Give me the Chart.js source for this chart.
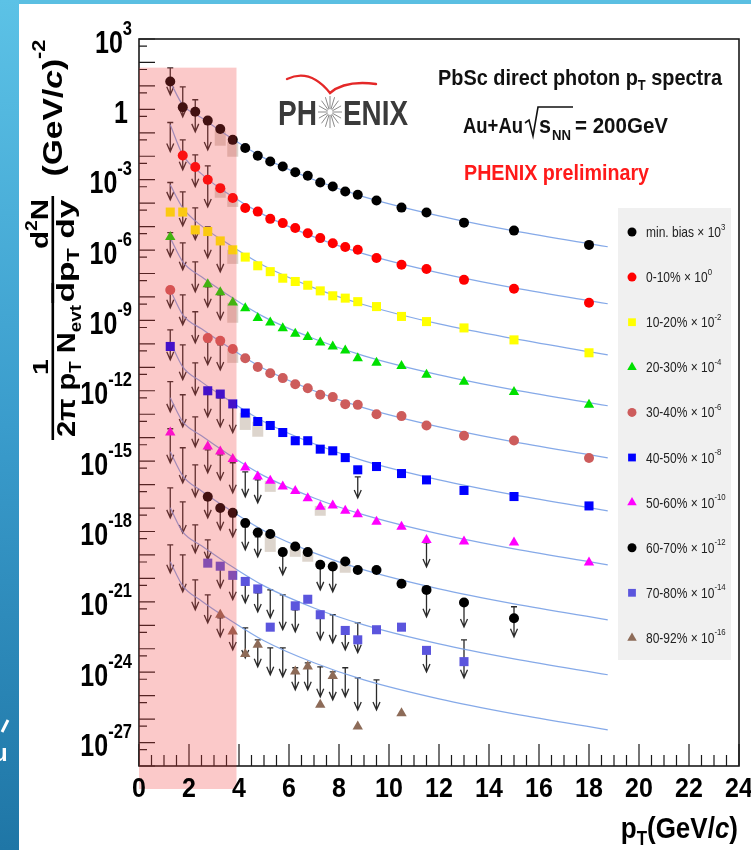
<!DOCTYPE html>
<html>
<head>
<meta charset="utf-8">
<title>PbSc direct photon pT spectra</title>
<script src="https://cdn.jsdelivr.net/npm/chart.js@4.4.1/dist/chart.umd.min.js"></script>
<style>
  html, body { margin: 0; padding: 0; background: #fff; }
  #wrap { width: 751px; height: 850px; }
</style>
</head>
<body>
<div id="wrap"><canvas id="spectra" width="751" height="850"></canvas></div>
<script>
// pT bin centres (GeV/c)
const ptBins = [1.25, 1.75, 2.25, 2.75, 3.25, 3.75, 4.25, 4.75, 5.25, 5.75, 6.25, 6.75,
                7.25, 7.75, 8.25, 8.75, 9.5, 10.5, 11.5, 13, 15, 18];

// measured points, log10 of the scaled yield (null = no marker)
const minBiasLog = [1.19, 0.09, -0.10, -0.48, -0.84, -1.30, -1.65, -1.98, -2.22, -2.44, -2.68, -2.83,
                    -3.12, -3.29, -3.50, -3.64, -3.89, -4.19, -4.40, -4.83, -5.17, -5.78];
const c0010Log = [null, -1.97, -2.46, -3.00, -3.36, -3.78, -4.21, -4.36, -4.67, -4.85, -5.06, -5.28,
                  -5.49, -5.71, -5.87, -5.99, -6.34, -6.63, -6.81, -7.27, -7.65, -8.25];
const c1020Log = [-4.38, -4.38, -5.14, -5.21, -5.61, -5.99, -6.30, -6.67, -6.92, -7.20, -7.34, -7.50,
                  -7.74, -7.95, -8.05, -8.20, -8.41, -8.83, -9.05, -9.32, -9.83, -10.38];
const c2030Log = [-5.44, null, null, -7.46, -7.80, -8.24, -8.48, -8.90, -9.09, -9.33, -9.57, -9.71,
                  -9.94, -10.11, -10.28, -10.61, -10.80, -10.94, -11.32, -11.62, -12.05, -12.60];
const c3040Log = [-7.70, null, null, -9.75, -9.87, -10.22, -10.61, -10.99, -11.25, -11.46, -11.72, -11.89,
                  -12.17, -12.27, -12.57, -12.60, -13.00, -13.08, -13.48, -13.92, -14.12, -14.87];
const c4050Log = [-10.11, null, null, -12.00, -12.14, -12.56, -12.95, -13.31, -13.48, -13.78, -14.13, -14.13,
                  -14.49, -14.56, -14.85, -15.37, -15.23, -15.53, -15.80, -16.25, -16.51, -16.91];
const c5060Log = [-13.78, null, null, -14.38, -14.59, -14.91, -15.27, -15.66, -15.84, -16.08, -16.27, -16.58,
                  -16.94, -16.89, -17.12, -17.27, -17.58, -17.80, -18.36, -18.43, -18.47, -19.32];
const c6070Log = [null, null, null, -16.52, -17.00, -17.20, -17.64, -18.04, -18.11, -18.88, -18.64, -18.88,
                  -19.42, -19.49, -19.28, -19.64, -19.64, -20.23, -20.49, -21.03, -21.70, null];
const c7080Log = [null, null, null, -19.35, -19.48, -19.87, -20.13, -20.45, -22.08, null, -21.17, -20.89,
                  -21.55, null, -22.22, -22.62, -22.19, -22.08, -23.07, -23.55, null, null];
const c8092Log = [null, null, null, null, -21.55, -22.27, -23.22, -22.83, null, null, -23.97, -23.76,
                  -25.39, -24.16, null, -26.32, null, -25.75, null, null, null, null];

// fit curves, log10 values at fitPt
const fitPt = [1.25, 1.75, 2.5, 3.5, 5, 7, 9, 12, 15, 18.75];
const fitMinBiasLog = [1.17, 0.19, -0.36, -1.09, -2.07, -3.00, -3.73, -4.54, -5.18, -5.86];
const fit0010Log = [-0.66, -1.94, -2.75, -3.56, -4.50, -5.44, -6.16, -6.97, -7.61, -8.29];
const fit1020Log = [-3.22, -4.20, -4.97, -5.69, -6.67, -7.61, -8.33, -9.15, -9.78, -10.47];
const fit2030Log = [-5.48, -6.50, -7.14, -7.87, -8.85, -9.78, -10.51, -11.32, -11.96, -12.64];
const fit3040Log = [-7.70, -8.76, -9.36, -10.08, -11.06, -12.00, -12.73, -13.54, -14.18, -14.86];
const fit4050Log = [-9.91, -10.98, -11.62, -12.34, -13.32, -14.26, -14.99, -15.80, -16.44, -17.12];
const fit5060Log = [-12.30, -13.32, -13.92, -14.65, -15.63, -16.57, -17.29, -18.10, -18.74, -19.42];
const fit6070Log = [-14.60, -15.63, -16.27, -16.99, -17.97, -18.91, -19.64, -20.45, -21.09, -21.77];
const fit7080Log = [-16.99, -18.02, -18.61, -19.34, -20.32, -21.26, -21.98, -22.79, -23.43, -24.11];
const fit8092Log = [-19.29, -20.32, -20.96, -21.68, -22.66, -23.60, -24.33, -25.14, -25.78, -26.46];

// upper limit arrows: cap (top) and tip (bottom), log10, per pT column
const arrowCols = [1.25, 1.75, 2.25, 2.75, 3.25, 3.75, 4.25, 4.75, 5.25, 5.75, 6.25, 6.75,
                   7.25, 7.75, 8.25, 8.75, 9.5, 11.5, 13, 15];
const arrowTopLog = [
  [1.77, -0.56, -3.12, -5.26, -7.57, -9.40, -11.61, -13.62, -16.14, -18.57],
  [0.96, -1.30, -3.52, -5.69, -7.91, -10.04, -12.17, -14.43, -16.74, -19.00],
  [0.41, -1.94, -4.20, -6.50, -8.63, -10.81, -13.11, -15.16, -17.72, -20.06],
  [-0.40, -2.41, -5.01, -7.57, -9.91, -12.09, -14.52, -16.65, -18.36, -20.70],
  [-5.48, -7.91, -10.04, -12.30, -14.73, -17.08, -19.55, -21.68],
  [-12.68, -15.07, -17.38, -19.98, -22.28],
  [-15.46, -17.80, -20.28, -22.11],
  [-15.80, -18.23, -20.62, -22.62],
  [-20.49, -22.96],
  [-19.00, -20.70, -22.96],
  [-21.34, -23.81],
  [-23.60],
  [-19.55, -21.68, -23.77],
  [-19.64, -21.55, -23.99],
  [-22.32, -23.81],
  [-15.67, -21.90, -24.24],
  [-24.33],
  [-18.48, -20.62, -23.17],
  [-21.13, -22.62],
  [-21.21]
];
const arrowBottomLog = [
  [0.62, -1.80, -3.86, -6.29, -8.46, -10.68, -12.90, -15.07, -17.42, -19.76],
  [-0.32, -2.58, -4.97, -6.84, -9.19, -11.53, -13.54, -15.93, -18.06, -20.57],
  [-0.96, -3.30, -5.56, -7.78, -9.96, -12.17, -14.39, -16.52, -18.91, -21.34],
  [-1.73, -4.16, -6.33, -8.42, -10.89, -13.11, -15.50, -17.42, -19.21, -21.90],
  [-6.93, -8.97, -11.11, -13.54, -15.80, -17.93, -20.40, -22.49],
  [-13.79, -16.35, -18.23, -20.91, -23.05],
  [-16.52, -18.78, -21.04, -23.39],
  [-16.78, -19.08, -21.43, -23.77],
  [-21.68, -24.11],
  [-19.85, -22.19, -24.20],
  [-22.28, -24.75],
  [-24.75],
  [-20.49, -22.62, -25.05],
  [-20.57, -22.75, -25.18],
  [-23.05, -25.05],
  [-16.57, -23.17, -25.61],
  [-25.61],
  [-19.51, -21.64, -23.99],
  [-22.07, -24.24],
  [-22.49]
];

// systematic error boxes (log10 top / bottom)
const sysPt = [3.25, 3.75, 3.25, 3.75, 3.75, 3.75, 3.75, 4.25, 4.75, 5.25, 7.25, 5.25, 6.25, 6.75, 8.25];
const sysTopLog = [-0.91, -1.38, -3.35, -3.77, -5.99, -8.25, -10.21, -12.94, -13.32, -15.84, -16.91, -18.10, -18.65, -18.87, -19.29];
const sysBottomLog = [-1.55, -2.02, -3.77, -4.16, -6.59, -9.10, -10.81, -13.67, -13.96, -16.31, -17.33, -18.87, -19.08, -19.29, -19.76];

const legendLabels = ['min. bias', '0-10%', '10-20%', '20-30%', '30-40%',
                      '40-50%', '50-60%', '60-70%', '70-80%', '80-92%'];
const legendScaleExp = [3, 0, -2, -4, -6, -8, -10, -12, -14, -16];

const xTickLabels = [0, 2, 4, 6, 8, 10, 12, 14, 16, 18, 20, 22, 24];
const yTickExp = [3, 0, -3, -6, -9, -12, -15, -18, -21, -24, -27];

const pinkBandPt = [0, 3.9];
const pinkBandTop = 60;

const seriesLogs = [minBiasLog, c0010Log, c1020Log, c2030Log, c3040Log, c4050Log, c5060Log, c6070Log, c7080Log, c8092Log];
const fitLogs = [fitMinBiasLog, fit0010Log, fit1020Log, fit2030Log, fit3040Log, fit4050Log, fit5060Log, fit6070Log, fit7080Log, fit8092Log];

const seriesStyle = [
  { color: '#000000', shape: 'circle', r: 5 },
  { color: '#ff0000', shape: 'circle', r: 5 },
  { color: '#ffff00', shape: 'rect', r: 6.4 },
  { color: '#00e000', shape: 'triangle', r: 6 },
  { color: '#cd5c5c', shape: 'circle', r: 5 },
  { color: '#0000ff', shape: 'rect', r: 6.4 },
  { color: '#ff00ff', shape: 'triangle', r: 6 },
  { color: '#000000', shape: 'circle', r: 5 },
  { color: '#5b55dd', shape: 'rect', r: 6.4 },
  { color: '#8d6b58', shape: 'triangle', r: 6 }
];

const FONT = "'Liberation Sans', Arial, Helvetica, sans-serif";

function toPoints(xs, logs) {
  const pts = [];
  xs.forEach((x, i) => {
    if (logs[i] !== null) pts.push({ x: x, y: Math.pow(10, logs[i]) });
  });
  return pts;
}

// draws text made of parts: [text, kind] where kind is '', 'sup', 'sub' or 'it'
function rich(ctx, parts, x, y, o) {
  const size = o.size;
  const small = size * (o.small || 0.65);
  const weight = o.weight || 'normal';
  const fontOf = k => (k === 'it' ? 'italic ' : '') + weight + ' ' +
    ((k === 'sup' || k === 'sub') ? small : size) + 'px ' + FONT;
  let total = 0;
  const widths = parts.map(p => {
    ctx.font = fontOf(p[1]);
    const w = ctx.measureText(p[0]).width;
    total += w;
    return w;
  });
  const sx = o.width ? o.width / total : (o.sx || 1);
  const sy = o.stretch || 1;
  let cx = o.align === 'right' ? -total : (o.align === 'center' ? -total / 2 : 0);
  ctx.save();
  ctx.translate(x, y);
  if (o.rotate) ctx.rotate(-Math.PI / 2);
  ctx.scale(sx, sy);
  ctx.fillStyle = o.color || '#000';
  ctx.textAlign = 'left';
  ctx.textBaseline = 'alphabetic';
  parts.forEach((p, i) => {
    ctx.font = fontOf(p[1]);
    let dy = 0;
    if (p[1] === 'sup') dy = -size * (o.raise || 0.45);
    if (p[1] === 'sub') dy = size * (o.drop || 0.22);
    ctx.fillText(p[0], cx, dy);
    cx += widths[i];
  });
  ctx.restore();
}

const backdrop = {
  id: 'backdrop',
  beforeDraw(chart) {
    const ctx = chart.ctx;
    ctx.save();
    ctx.fillStyle = '#ffffff';
    ctx.fillRect(0, 0, chart.width, chart.height);
    ctx.fillStyle = '#5bbfe2';
    ctx.fillRect(0, 0, chart.width, 4);
    const g = ctx.createLinearGradient(0, 0, 0, chart.height);
    g.addColorStop(0, '#5cc2e6');
    g.addColorStop(0.5, '#3a9ccc');
    g.addColorStop(1, '#1f76a6');
    ctx.fillStyle = g;
    ctx.fillRect(0, 0, 19, chart.height);
    // bits of slide text peeking in
    ctx.fillStyle = '#ffffff';
    ctx.font = 'bold 24px ' + FONT;
    ctx.fillText('u', -7, 761);
    ctx.strokeStyle = '#ffffff';
    ctx.lineWidth = 3;
    ctx.beginPath();
    ctx.moveTo(2, 732);
    ctx.lineTo(8, 720);
    ctx.stroke();
    ctx.restore();
  }
};

const decorations = {
  id: 'decorations',
  beforeDatasetsDraw(chart) {
    const ctx = chart.ctx;
    const xs = chart.scales.x, ys = chart.scales.y;
    ctx.save();
    // systematic boxes
    ctx.fillStyle = 'rgba(175,155,135,0.42)';
    sysPt.forEach((pt, i) => {
      const x = xs.getPixelForValue(pt);
      const y1 = ys.getPixelForValue(Math.pow(10, sysTopLog[i]));
      const y2 = ys.getPixelForValue(Math.pow(10, sysBottomLog[i]));
      ctx.fillRect(x - 5.5, y1, 11, y2 - y1);
    });
    // upper limit arrows
    ctx.strokeStyle = '#2a2a2a';
    ctx.lineWidth = 1.3;
    arrowCols.forEach((pt, c) => {
      const x = xs.getPixelForValue(pt);
      arrowTopLog[c].forEach((t, k) => {
        const yt = ys.getPixelForValue(Math.pow(10, t));
        const yb = ys.getPixelForValue(Math.pow(10, arrowBottomLog[c][k]));
        ctx.beginPath();
        ctx.moveTo(x - 3, yt);
        ctx.lineTo(x + 3, yt);
        ctx.moveTo(x, yt);
        ctx.lineTo(x, yb);
        ctx.moveTo(x - 3.5, yb - 8);
        ctx.lineTo(x, yb);
        ctx.lineTo(x + 3.5, yb - 8);
        ctx.stroke();
      });
    });
    ctx.restore();
  },
  afterDraw(chart) {
    const ctx = chart.ctx;
    const a = chart.chartArea;
    const xs = chart.scales.x, ys = chart.scales.y;
    ctx.save();

    // frame and ticks
    ctx.strokeStyle = '#1a1a1a';
    ctx.lineWidth = 1.6;
    ctx.strokeRect(a.left, a.top, a.right - a.left, a.bottom - a.top);
    ctx.lineWidth = 1.2;
    ctx.beginPath();
    for (let d = -28; d <= 3; d++) {
      const y = ys.getPixelForValue(Math.pow(10, d));
      ctx.moveTo(a.left, y); ctx.lineTo(a.left + 16, y);
      if (d < 3) {
        const y5 = ys.getPixelForValue(5 * Math.pow(10, d));
        ctx.moveTo(a.left, y5); ctx.lineTo(a.left + 8, y5);
      }
    }
    for (let v = 0; v <= 24; v += 0.5) {
      const x = xs.getPixelForValue(v);
      const len = (v % 2 === 0) ? 22 : 11;
      ctx.moveTo(x, a.bottom); ctx.lineTo(x, a.bottom - len);
    }
    ctx.stroke();

    // pink band (overlay)
    const px1 = xs.getPixelForValue(pinkBandPt[0]);
    const px2 = xs.getPixelForValue(pinkBandPt[1]);
    const py1 = ys.getPixelForValue(pinkBandTop);
    ctx.fillStyle = 'rgba(240,60,60,0.28)';
    ctx.fillRect(px1, py1, px2 - px1, a.bottom + 23 - py1);

    // tick labels
    xTickLabels.forEach(v => {
      rich(ctx, [[String(v), '']], xs.getPixelForValue(v), 797,
        { size: 25, weight: 'bold', stretch: 1.12, align: 'center', color: '#000' });
    });
    yTickExp.forEach(e => {
      const y = ys.getPixelForValue(Math.pow(10, e)) + 13.5;
      const parts = e === 0 ? [['1', '']] : [['10', ''], [String(e), 'sup']];
      rich(ctx, parts, e === 0 ? 128 : 132, y,
        { size: 25, weight: 'bold', stretch: 1.28, align: 'right', small: 0.66, raise: 0.56 });
    });

    // axis titles
    rich(ctx, [['p', ''], ['T', 'sub'], ['(GeV/', ''], ['c', 'it'], [')', '']], 738, 838,
      { size: 26, weight: 'bold', stretch: 1.15, align: 'right' });
    rich(ctx, [['(GeV/', ''], ['c', 'it'], [')', ''], ['-2', 'sup']], 62, 108,
      { size: 28, weight: 'bold', rotate: true, width: 137, align: 'center', raise: 0.6 });
    rich(ctx, [['d', ''], ['2', 'sup'], ['N', '']], 48, 224,
      { size: 24, weight: 'bold', rotate: true, width: 50, align: 'center' });
    rich(ctx, [['dp', ''], ['T', 'sub'], [' dy', '']], 74, 251,
      { size: 24, weight: 'bold', rotate: true, width: 103, align: 'center' });
    rich(ctx, [['1', '']], 48, 367,
      { size: 22, weight: 'bold', rotate: true, sx: 1.3, align: 'center' });
    rich(ctx, [['2\u03c0 p', ''], ['T', 'sub'], [' N', ''], ['evt', 'sub']], 75, 371,
      { size: 26, weight: 'bold', rotate: true, width: 132, align: 'center' });
    ctx.fillStyle = '#000';
    ctx.fillRect(51.5, 196, 2.6, 107);
    ctx.fillRect(51.5, 283, 2.6, 157);

    // legend
    ctx.fillStyle = '#f0f0f0';
    ctx.fillRect(618, 208, 113, 452);
    legendLabels.forEach((lab, i) => {
      const y = 232 + i * 45.1;
      const st = seriesStyle[i];
      ctx.fillStyle = st.color;
      Chart.helpers.drawPoint(ctx, {
        pointStyle: st.shape, rotation: 0, borderWidth: 0,
        radius: st.shape === 'circle' ? 4.5 : 5.5
      }, 632, y);
      rich(ctx, [[lab + ' \u00d7 10', ''], [String(legendScaleExp[i]), 'sup']], 646, y + 5,
        { size: 12, stretch: 1.25, color: '#222', raise: 0.5 });
    });

    // labels upper right
    rich(ctx, [['PbSc direct photon p', ''], ['T', 'sub'], [' spectra', '']], 438, 85,
      { size: 17, weight: 'bold', stretch: 1.25, width: 284, color: '#111' });
    rich(ctx, [['Au+Au', '']], 463, 133, { size: 17, weight: 'bold', stretch: 1.25, width: 60, color: '#111' });
    ctx.strokeStyle = '#111';
    ctx.lineWidth = 1.6;
    ctx.beginPath();
    ctx.moveTo(525, 123); ctx.lineTo(529, 120); ctx.lineTo(533, 136);
    ctx.lineTo(538, 107); ctx.lineTo(573, 107);
    ctx.stroke();
    rich(ctx, [['s', '']], 539, 133, { size: 19, weight: 'bold', stretch: 1.25, width: 12, color: '#111' });
    rich(ctx, [['NN', '']], 552, 140, { size: 11, weight: 'bold', stretch: 1.3, width: 19, color: '#111' });
    rich(ctx, [['= 200GeV', '']], 575, 133, { size: 17, weight: 'bold', stretch: 1.25, width: 93, color: '#111' });
    rich(ctx, [['PHENIX preliminary', '']], 464, 180,
      { size: 17, weight: 'bold', stretch: 1.25, width: 185, color: '#ff1a1a' });

    // PHENIX logo
    rich(ctx, [['PH', '']], 278, 125, { size: 28, weight: 'bold', stretch: 1.25, width: 39, color: '#3a3a3a' });
    rich(ctx, [['ENIX', '']], 343, 125, { size: 28, weight: 'bold', stretch: 1.25, width: 65, color: '#3a3a3a' });
    ctx.strokeStyle = '#8a8a8a';
    ctx.lineWidth = 1;
    ctx.beginPath();
    for (let k = 0; k < 16; k++) {
      const ang = k * Math.PI / 8;
      ctx.moveTo(330 + 2.5 * Math.cos(ang), 112 + 3 * Math.sin(ang));
      ctx.lineTo(330 + 12 * Math.cos(ang), 112 + 16 * Math.sin(ang));
    }
    ctx.stroke();
    ctx.strokeStyle = '#e42828';
    ctx.lineWidth = 2.4;
    ctx.lineCap = 'round';
    ctx.beginPath();
    ctx.moveTo(287, 79);
    ctx.quadraticCurveTo(310, 68, 330, 93);
    ctx.quadraticCurveTo(345, 80, 376, 84);
    ctx.stroke();

    ctx.restore();
  }
};

const datasets = [];
seriesLogs.forEach((logs, i) => {
  const st = seriesStyle[i];
  datasets.push({
    label: legendLabels[i],
    data: toPoints(ptBins, logs),
    pointStyle: st.shape,
    pointRadius: st.r,
    pointBackgroundColor: st.color,
    pointBorderWidth: 0,
    borderWidth: 0,
    showLine: false,
    order: 1
  });
});
fitLogs.forEach((logs, i) => {
  datasets.push({
    label: 'fit ' + legendLabels[i],
    data: toPoints(fitPt, logs),
    showLine: true,
    pointRadius: 0,
    borderColor: 'rgba(120,160,230,0.9)',
    borderWidth: 1.2,
    cubicInterpolationMode: 'monotone',
    order: 2
  });
});

new Chart(document.getElementById('spectra'), {
  type: 'scatter',
  data: { datasets: datasets },
  options: {
    responsive: false,
    animation: false,
    devicePixelRatio: 1,
    events: [],
    layout: { padding: { left: 139, right: 12, top: 39, bottom: 84 } },
    scales: {
      x: { type: 'linear', min: 0, max: 24, display: false },
      y: { type: 'logarithmic', min: 1e-28, max: 1e3, display: false }
    },
    plugins: {
      legend: { display: false },
      tooltip: { enabled: false }
    }
  },
  plugins: [backdrop, decorations]
});
</script>
</body>
</html>
